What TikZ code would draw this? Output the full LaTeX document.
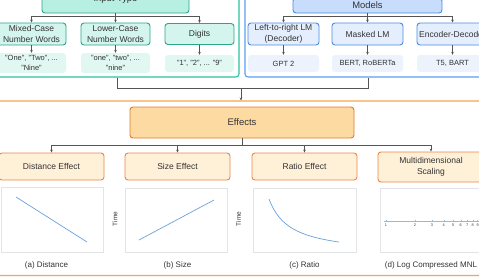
\documentclass[tikz,border=0pt]{standalone}
\usepackage{fontspec}
\setmainfont{Liberation Sans}
\usetikzlibrary{arrows.meta}
\definecolor{gC}{HTML}{2BC2A2}
\definecolor{gB}{HTML}{2AA58C}
\definecolor{gTop}{HTML}{B7EFE3}
\definecolor{gKid}{HTML}{D4F5ED}
\definecolor{gVal}{HTML}{E0F7F2}
\definecolor{bC}{HTML}{5C9CF2}
\definecolor{bB}{HTML}{4A8BE6}
\definecolor{bTop}{HTML}{C8DCFB}
\definecolor{bKid}{HTML}{E4EEFD}
\definecolor{bVal}{HTML}{EDF3FD}
\definecolor{oC}{HTML}{F7A34F}
\definecolor{oB}{HTML}{E07C2A}
\definecolor{oTop}{HTML}{FDDAA2}
\definecolor{oKid}{HTML}{FFF0D8}
\definecolor{oKB}{HTML}{E8874A}
\definecolor{chartB}{HTML}{E2E5E8}
\definecolor{chartL}{HTML}{6B9FD6}
\definecolor{axisL}{HTML}{8CBCE0}
\definecolor{txt}{HTML}{333333}
\definecolor{conC}{HTML}{555555}
\tikzset{
  cont/.style={draw, rounded corners=3pt, line width=1.1pt},
  box/.style={draw, rounded corners=3pt, line width=0.9pt, align=center, inner sep=0pt, text=txt,
    font=\fontsize{8.5}{10.5}\selectfont},
  topbox/.style={box, font=\fontsize{9.4}{11}\selectfont},
  valbox/.style={rounded corners=3pt, align=center, inner sep=0pt, text=txt,
    font=\fontsize{7.5}{10.5}\selectfont},
  chart/.style={draw=chartB, line width=0.6pt, inner sep=0pt},
  conn/.style={draw=conC, line width=0.75pt, -{Stealth[length=3pt,width=2.6pt]}},
  plain/.style={draw=conC, line width=0.75pt},
  caption/.style={text=txt, font=\fontsize{8}{9}\selectfont, inner sep=0pt},
  timelab/.style={text=txt, font=\fontsize{6.5}{7}\selectfont, rotate=90, inner sep=0pt},
  ticklab/.style={text=txt, font=\fontsize{3.8}{4}\selectfont, inner sep=0pt}
}
\begin{document}
\begin{tikzpicture}[x=1pt,y=-1pt]
\useasboundingbox (0,0) rectangle (479,277);
\clip (0,0) rectangle (479,277);

% containers
\node[cont, draw=gC, minimum width=244, minimum height=120] (gcont) at (117,17) {};
\node[cont, draw=bC, minimum width=246, minimum height=120] (bcont) at (368,17) {};
\node[cont, draw=oC, minimum width=492, minimum height=174.5] (ocont) at (241,188.25) {};

% input type group
\node[topbox, draw=gB, fill=gTop, minimum width=147, minimum height=27] (inp) at (115.5,-0.5) {Input Type};
\node[box, draw=gB, fill=gKid, minimum width=69, minimum height=22] (mixed) at (31.5,34) {Mixed-Case\\Number Words};
\node[box, draw=gB, fill=gKid, minimum width=69, minimum height=22] (lower) at (115.5,34) {Lower-Case\\Number Words};
\node[box, draw=gB, fill=gKid, minimum width=69, minimum height=21] (digits) at (199.5,34) {Digits};
\node[valbox, fill=gVal, minimum width=69, minimum height=20] (mixedv) at (31.5,63) {"One", "Two", ...\\"Nine"};
\node[valbox, fill=gVal, minimum width=69, minimum height=20] (lowerv) at (115.5,63) {"one", "two", ...\\"nine"};
\node[valbox, fill=gVal, minimum width=69, minimum height=17] (digitsv) at (199.5,63.5) {"1", "2", ... "9"};

\coordinate (inpj) at (115.5,16.5);
\draw[conn] (inp.south) -- (inpj) -| (mixed.north);
\draw[conn] (inp.south) -- (inpj) -| (lower.north);
\draw[conn] (inp.south) -- (inpj) -| (digits.north);
\draw[conn] (mixed.south) -- (mixedv.north);
\draw[conn] (lower.south) -- (lowerv.north);
\draw[conn] (digits.south) -- (digitsv.north);

% models group
\node[topbox, draw=bB, fill=bTop, minimum width=149, minimum height=15] (mod) at (367.5,5.5) {Models};
\node[box, draw=bB, fill=bKid, minimum width=71, minimum height=22] (ltr) at (283.5,34) {Left-to-right LM\\(Decoder)};
\node[box, draw=bB, fill=bKid, minimum width=71, minimum height=22] (mlm) at (367.5,34) {Masked LM};
\node[box, draw=bB, fill=bKid, minimum width=71, minimum height=22] (encdec) at (452.5,34) {Encoder-Decoder};
\node[valbox, fill=bVal, minimum width=71, minimum height=17] (ltrv) at (283.5,63.5) {GPT 2};
\node[valbox, fill=bVal, minimum width=71, minimum height=17] (mlmv) at (367.5,63.5) {BERT, RoBERTa};
\node[valbox, fill=bVal, minimum width=71, minimum height=17] (encdecv) at (452.5,63.5) {T5, BART};

\coordinate (modj) at (367.5,16.5);
\draw[conn] (mod.south) -- (modj) -| (ltr.north);
\draw[conn] (mod.south) -- (modj) -| (mlm.north);
\draw[conn] (mod.south) -- (modj) -| (encdec.north);
\draw[conn] (ltr.south) -- (ltrv.north);
\draw[conn] (mlm.south) -- (mlmv.north);
\draw[conn] (encdec.south) -- (encdecv.north);

% join between groups
\coordinate (gj) at (117,88);
\coordinate (bj) at (368,88);
\coordinate (mj) at (241,88);
\draw[plain] (gcont.south) -- (gj) -- (bj) -- (bcont.south);
\draw[conn] (mj) -- (ocont.north);

% effects
\node[box, draw=oB, fill=oTop, minimum width=224, minimum height=31, font=\fontsize{9.5}{11}\selectfont] (eff) at (242,122.5) {Effects};
\node[box, draw=oKB, fill=oKid, minimum width=105, minimum height=27] (dist) at (51.5,166.5) {Distance Effect};
\node[box, draw=oKB, fill=oKid, minimum width=105, minimum height=27] (size) at (177.5,166.5) {Size Effect};
\node[box, draw=oKB, fill=oKid, minimum width=105, minimum height=27] (ratio) at (304.5,166.5) {Ratio Effect};
\node[box, draw=oKB, fill=oKid, minimum width=106, minimum height=30] (mds) at (431,167) {Multidimensional\\Scaling};

\coordinate (effj) at (242,145);
\draw[conn] (eff.south) -- (effj) -| (dist.north);
\draw[conn] (eff.south) -- (effj) -| (size.north);
\draw[conn] (eff.south) -- (effj) -| (ratio.north);
\draw[conn] (eff.south) -- (effj) -| (mds.north);

% charts
\node[chart, minimum width=102, minimum height=65] (ca) at (52,219.5) {};
\node[chart, minimum width=102, minimum height=64] (cb) at (176,220) {};
\node[chart, minimum width=103, minimum height=64] (cc) at (304.5,220) {};
\node[chart, minimum width=104, minimum height=64] (cd) at (432,220) {};

\draw[chartL, line width=0.7pt] (16,197) -- (87,242);
\draw[chartL, line width=0.7pt] (139,240) -- (214,200);
\draw[chartL, line width=0.7pt] plot[domain=9:79, samples=50, smooth] ({260+\x},{255-1185/(\x+12.16)});

\draw[axisL, line width=0.7pt] (384,221) -- (490,221);
\foreach \n in {1,...,9}{
  \pgfmathsetmacro{\px}{386+96*log10(\n)}
  \draw[axisL, line width=0.4pt] (\px,219.5) -- (\px,222);
  \node[ticklab] (tk\n) at (\px,225.5) {\n};
}

\node[timelab] (ta) at (115,219) {Time};
\node[timelab] (tb) at (238.5,219) {Time};

\node[caption] (capa) at (46.5,265) {(a) Distance};
\node[caption] (capb) at (177.5,265) {(b) Size};
\node[caption] (capc) at (304.5,265) {(c) Ratio};
\node[caption] (capd) at (431,265) {(d) Log Compressed MNL};
\end{tikzpicture}
\end{document}
